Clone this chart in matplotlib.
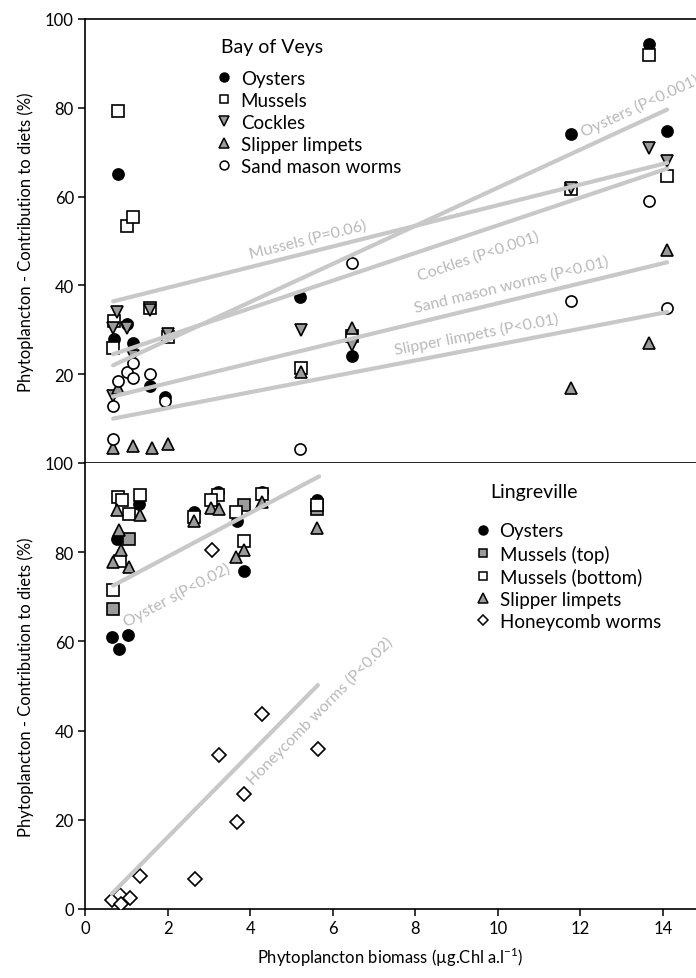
import numpy as np
import matplotlib.pyplot as plt
from matplotlib.lines import Line2D

plt.rcParams['font.family'] = ['Lato', 'DejaVu Sans']

# ---- Bay of Veys: phytoplankton biomass (x) vs contribution to diet (%) ----
veys_oysters_x = [0.80, 1.02, 0.70, 1.16, 1.57, 1.94, 5.20, 6.46, 11.77, 13.66, 14.10]
veys_oysters_y = [65.0, 31.4, 28.0, 27.0, 17.4, 14.8, 37.5, 24.0, 74.0, 94.3, 74.7]
veys_mussels_x = [0.80, 1.02, 1.16, 0.70, 0.68, 1.57, 2.00, 5.23, 6.46, 11.77, 13.66, 14.10]
veys_mussels_y = [79.3, 53.3, 55.5, 32.0, 26.0, 35.0, 28.3, 21.5, 28.5, 61.8, 91.8, 64.7]
veys_cockles_x = [0.77, 0.68, 1.02, 1.16, 1.57, 2.00, 0.68, 5.23, 6.46, 11.77, 13.66, 14.10]
veys_cockles_y = [34.0, 30.3, 30.3, 24.2, 34.5, 29.0, 15.2, 30.0, 26.5, 62.0, 71.0, 68.0]
veys_slipper_x = [0.68, 1.16, 1.62, 2.00, 0.80, 5.23, 6.46, 11.77, 13.66, 14.10]
veys_slipper_y = [3.4, 3.8, 3.4, 4.3, 17.0, 20.5, 30.5, 17.0, 27.0, 48.0]
veys_sandmason_x = [0.68, 0.80, 1.02, 1.16, 1.16, 1.57, 1.94, 0.68, 5.20, 6.46, 11.77, 13.66, 14.10]
veys_sandmason_y = [12.9, 18.5, 20.4, 19.2, 22.6, 20.1, 14.0, 5.4, 3.2, 45.0, 36.5, 59.0, 34.8]

# fitted lines (Bay of Veys), value at first and last biomass
veys_fit_x = [0.68, 14.10]
veys_fit_names = ['Oysters (P<0.001)', 'Mussels (P=0.06)', 'Cockles (P<0.001)',
                  'Sand mason worms (P<0.01)', 'Slipper limpets (P<0.01)']
veys_fit_y0 = [22.0, 36.4, 24.5, 15.0, 10.0]
veys_fit_y1 = [79.6, 67.6, 66.3, 45.2, 34.0]
veys_label_x = [13.45, 5.40, 9.52, 10.34, 9.49]
veys_label_y = [80.6, 50.5, 46.8, 40.2, 29.0]

# ---- Lingreville ----
ling_oysters_x = [0.77, 1.31, 0.65, 1.05, 0.83, 2.64, 3.22, 3.68, 3.85, 4.29, 5.62]
ling_oysters_y = [83.0, 90.8, 61.0, 61.5, 58.3, 89.0, 93.5, 87.0, 75.7, 93.5, 91.7]
ling_mussels_top_x = [0.68, 1.07, 3.85, 5.62]
ling_mussels_top_y = [67.3, 83.0, 90.5, 89.6]
ling_mussels_bot_x = [0.80, 0.90, 1.33, 1.07, 0.68, 0.85, 2.64, 3.22, 3.05, 3.66, 3.85, 4.29, 5.62]
ling_mussels_bot_y = [92.3, 91.6, 92.8, 88.5, 71.6, 78.0, 88.0, 92.8, 91.6, 89.0, 82.6, 93.0, 90.5]
ling_slipper_x = [0.77, 1.33, 0.82, 0.87, 0.68, 1.07, 2.64, 3.05, 3.24, 3.85, 3.66, 4.29, 5.62]
ling_slipper_y = [89.4, 88.3, 85.0, 80.4, 77.7, 76.6, 87.0, 90.0, 89.6, 80.4, 79.0, 91.2, 85.4]
ling_honeycomb_x = [4.29, 5.64, 3.24, 3.85, 3.68, 1.33, 2.66, 0.65, 0.85, 1.09, 0.87, 3.07]
ling_honeycomb_y = [43.7, 35.8, 34.5, 25.7, 19.6, 7.4, 6.8, 2.0, 3.2, 2.5, 1.1, 80.6]

ling_fit_names = ['Oyster s(P<0.02)', 'Honeycomb worms (P<0.02)']
ling_fit_x0 = [0.68, 0.65]
ling_fit_x1 = [5.67, 5.64]
ling_fit_y0 = [72.5, 3.4]
ling_fit_y1 = [97.0, 50.2]
ling_label_x = [2.23, 5.69]
ling_label_y = [70.4, 44.6]

GREY = '#9b9b9b'
LINE = '#c8c8c8'
LABEL = '#b9b9b9'
MS = 8

fig = plt.figure(figsize=(6.96, 9.79), dpi=100)
W, H = 696.0, 979.0
x0px, top_px, mid_px, bot_px = 85.0, 20.0, 464.0, 910.0
ax1 = fig.add_axes([x0px / W, 1 - mid_px / H, 1 - x0px / W, (mid_px - top_px) / H])
ax2 = fig.add_axes([x0px / W, 1 - bot_px / H, 1 - x0px / W, (bot_px - mid_px) / H])

xmax = (W - x0px) / ((663.0 - x0px) / 14.0)
for ax in (ax1, ax2):
    ax.set_xlim(0, xmax)
    ax.set_ylim(0, 100)
    ax.spines['right'].set_visible(False)
    for s in ('left', 'bottom', 'top'):
        ax.spines[s].set_linewidth(1.2)
    ax.tick_params(direction='out', length=5, width=1.1, labelsize=12, pad=3)
    ax.set_ylabel('Phytoplancton - Contribution to diets (%)', fontsize=12, labelpad=8)

ax1.set_yticks([20, 40, 60, 80, 100])
ax1.set_xticks([])
ax2.set_yticks([0, 20, 40, 60, 80, 100])
ax2.set_xticks(np.arange(0, 15, 2))
ax2.spines['top'].set_visible(False)
ax2.set_xlabel(r'Phytoplancton biomass (µg.Chl a.l$^{\mathregular{-1}}$)', fontsize=12, labelpad=6)


def pts(ax, x, y, marker, fc, size=MS):
    ax.plot(x, y, linestyle='none', marker=marker, markersize=size, markerfacecolor=fc,
            markeredgecolor='black', markeredgewidth=1.2, zorder=3)


# Bay of Veys
pts(ax1, veys_oysters_x, veys_oysters_y, 'o', 'black')
pts(ax1, veys_mussels_x, veys_mussels_y, 's', 'white')
pts(ax1, veys_cockles_x, veys_cockles_y, 'v', GREY, 8.5)
pts(ax1, veys_slipper_x, veys_slipper_y, '^', GREY, 8.5)
pts(ax1, veys_sandmason_x, veys_sandmason_y, 'o', 'white')

fig.canvas.draw()


def line_angle(ax, xa, ya, xb, yb):
    pa = ax.transData.transform((xa, ya))
    pb = ax.transData.transform((xb, yb))
    return np.degrees(np.arctan2(pb[1] - pa[1], pb[0] - pa[0]))


for name, ya, yb, lx, ly in zip(veys_fit_names, veys_fit_y0, veys_fit_y1, veys_label_x, veys_label_y):
    ax1.plot(veys_fit_x, [ya, yb], color=LINE, lw=3, solid_capstyle='round', zorder=4)
    ang = line_angle(ax1, veys_fit_x[0], ya, veys_fit_x[1], yb)
    ax1.text(lx, ly, name, rotation=ang, rotation_mode='anchor', ha='center', va='center',
             color=LABEL, fontsize=11.5, zorder=5)

# Lingreville
pts(ax2, ling_oysters_x, ling_oysters_y, 'o', 'black')
pts(ax2, ling_mussels_top_x, ling_mussels_top_y, 's', GREY)
pts(ax2, ling_mussels_bot_x, ling_mussels_bot_y, 's', 'white')
pts(ax2, ling_slipper_x, ling_slipper_y, '^', GREY, 8.5)
pts(ax2, ling_honeycomb_x, ling_honeycomb_y, 'D', 'white', 6.8)

for name, xa, xb, ya, yb, lx, ly in zip(ling_fit_names, ling_fit_x0, ling_fit_x1,
                                        ling_fit_y0, ling_fit_y1, ling_label_x, ling_label_y):
    ax2.plot([xa, xb], [ya, yb], color=LINE, lw=3, solid_capstyle='round', zorder=4)
    ang = line_angle(ax2, xa, ya, xb, yb)
    ax2.text(lx, ly, name, rotation=ang, rotation_mode='anchor', ha='center', va='center',
             color=LABEL, fontsize=11.5, zorder=5)


def handle(marker, fc, size=MS):
    return Line2D([], [], linestyle='none', marker=marker, markersize=size * 0.8,
                  markerfacecolor=fc, markeredgecolor='black', markeredgewidth=1.1)


veys_handles = [handle('o', 'black'), handle('s', 'white'), handle('v', GREY, 8.5),
                handle('^', GREY, 8.5), handle('o', 'white')]
veys_labels = ['Oysters', 'Mussels', 'Cockles', 'Slipper limpets', 'Sand mason worms']
ling_handles = [handle('o', 'black'), handle('s', GREY), handle('s', 'white'),
                handle('^', GREY, 8.5), handle('D', 'white', 6.8)]
ling_labels = ['Oysters', 'Mussels (top)', 'Mussels (bottom)', 'Slipper limpets', 'Honeycomb worms']

leg_kw = dict(frameon=False, fontsize=13.5, handlelength=0.9, handletextpad=0.42,
              labelspacing=0.27, borderpad=0, borderaxespad=0, loc='upper left')
ax1.text(0.2226, 0.937, 'Bay of Veys', transform=ax1.transAxes, fontsize=14, va='center', ha='left')
ax1.legend(veys_handles, veys_labels, bbox_to_anchor=(0.2144, 0.886), **leg_kw)
ax2.text(0.663, 0.937, 'Lingreville', transform=ax2.transAxes, fontsize=14, va='center', ha='left')
ax2.legend(ling_handles, ling_labels, bbox_to_anchor=(0.638, 0.8666), **leg_kw)

fig.savefig('out.png', dpi=100)
